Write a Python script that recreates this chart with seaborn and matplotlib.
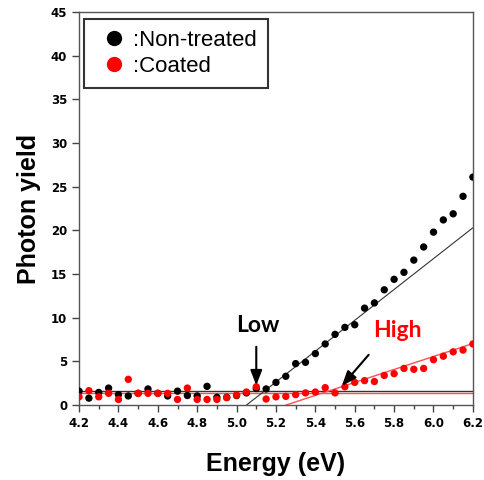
import numpy as np
import pandas as pd
import matplotlib
matplotlib.use('Agg')
import matplotlib.pyplot as plt
from matplotlib.ticker import MultipleLocator
import seaborn as sns

# photon energy grid (0.05 eV steps)
energy = [4.20, 4.25, 4.30, 4.35, 4.40, 4.45, 4.50, 4.55, 4.60, 4.65,
          4.70, 4.75, 4.80, 4.85, 4.90, 4.95, 5.00, 5.05, 5.10, 5.15,
          5.20, 5.25, 5.30, 5.35, 5.40, 5.45, 5.50, 5.55, 5.60, 5.65,
          5.70, 5.75, 5.80, 5.85, 5.90, 5.95, 6.00, 6.05, 6.10, 6.15, 6.20]

non_treated = [1.6, 0.8, 1.45, 1.95, 1.2, 1.05, 1.35, 1.85, 1.35, 1.05,
               1.6, 1.1, 1.05, 2.15, 0.9, 0.9, 1.1, 1.4, 1.9, 1.85,
               2.6, 3.3, 4.75, 4.9, 5.9, 7.0, 8.1, 8.9, 9.2, 11.1,
               11.7, 13.2, 14.4, 15.2, 16.6, 18.1, 19.8, 21.2, 21.9, 23.9, 26.1]

coated = [0.95, 1.65, 0.95, 1.35, 0.65, 2.95, 1.35, 1.35, 1.35, 1.35,
          0.65, 1.95, 0.65, 0.65, 0.65, 0.85, 1.15, 1.5, 2.1, 0.7,
          0.95, 1.0, 1.2, 1.4, 1.5, 2.0, 1.4, 2.1, 2.6, 2.8,
          2.7, 3.4, 3.6, 4.2, 4.1, 4.2, 5.2, 5.6, 6.1, 6.3, 7.0]

# baselines and linear fits (onset energy -> value at 6.2 eV)
base_black = 1.65
base_red = 1.35
fit_black_x = [5.05, 6.2]
fit_black_y = [0.0, 20.3]
fit_red_x = [5.25, 6.2]
fit_red_y = [0.0, 7.05]

df = pd.DataFrame({
    'Energy': energy + energy,
    'Yield': non_treated + coated,
    'Sample': [':Non-treated'] * len(energy) + [':Coated'] * len(energy),
})

sns.set_style('ticks')
plt.rcParams['font.family'] = ['Liberation Sans', 'DejaVu Sans']
plt.rcParams['text.color'] = 'black'
plt.rcParams['axes.labelcolor'] = 'black'
plt.rcParams['xtick.labelcolor'] = 'black'
plt.rcParams['ytick.labelcolor'] = 'black'

fig = plt.figure(figsize=(4.85, 4.80), dpi=100)
ax = fig.add_axes([0.163, 0.156, 0.812, 0.819])

ax.axhline(base_black, color='#333333', lw=1.0, zorder=1)
ax.axhline(base_red, color='#ff5050', lw=1.0, zorder=1)
ax.plot(fit_black_x, fit_black_y, color='#333333', lw=0.8, zorder=1)
ax.plot(fit_red_x, fit_red_y, color='#ff5050', lw=1.0, zorder=1)

sns.scatterplot(data=df, x='Energy', y='Yield', hue='Sample',
                palette={':Non-treated': 'black', ':Coated': 'red'},
                s=28, edgecolor='none', linewidth=0, ax=ax, zorder=3,
                legend=True)

handles, labels = ax.get_legend_handles_labels()
for h in handles:
    h.set_markersize(11)
leg = ax.legend(handles, labels, loc='upper left', bbox_to_anchor=(0.013, 0.982),
                borderaxespad=0.0, frameon=True, fancybox=False, fontsize=16,
                handletextpad=0.0, borderpad=0.5, labelspacing=0.2,
                handlelength=1.7)
leg.get_frame().set_edgecolor('black')
leg.get_frame().set_linewidth(1.5)

ax.annotate('', xy=(5.10, 1.95), xytext=(5.10, 7.0),
            arrowprops=dict(arrowstyle='-|>,head_width=0.35,head_length=0.9',
                            color='black', lw=1.5))
ax.text(5.11, 9.1, 'Low', color='black', fontsize=16.5, fontweight='bold',
        ha='center', va='center', family=['Lato', 'DejaVu Sans'])
ax.annotate('', xy=(5.525, 1.95), xytext=(5.68, 6.0),
            arrowprops=dict(arrowstyle='-|>,head_width=0.35,head_length=0.9',
                            color='black', lw=1.5))
ax.text(5.815, 8.5, 'High', color='red', fontsize=16.5, fontweight='bold',
        ha='center', va='center', family=['Lato', 'DejaVu Sans'])

ax.set_xlim(4.2, 6.2)
ax.set_ylim(0, 45)
ax.xaxis.set_major_locator(MultipleLocator(0.2))
ax.xaxis.set_minor_locator(MultipleLocator(0.1))
ax.yaxis.set_major_locator(MultipleLocator(5))
ax.set_xticklabels([f'{v:.1f}' for v in ax.get_xticks()])
ax.tick_params(axis='both', which='major', direction='out', length=5,
               width=1, labelsize=8.5, color='#444444')
ax.tick_params(axis='x', which='minor', direction='out', length=3, width=1,
               color='#444444')
for lab in ax.get_xticklabels() + ax.get_yticklabels():
    lab.set_fontweight('bold')
    lab.set_family(['DejaVu Sans'])

for sp in ax.spines.values():
    sp.set_visible(True)
    sp.set_color('#555555')
    sp.set_linewidth(1.0)

ax.set_xlabel('Energy (eV)', fontsize=18, fontweight='bold', labelpad=16)
ax.set_ylabel('Photon yield', fontsize=18, fontweight='bold', labelpad=7)

fig.savefig('out.png', dpi=100)
